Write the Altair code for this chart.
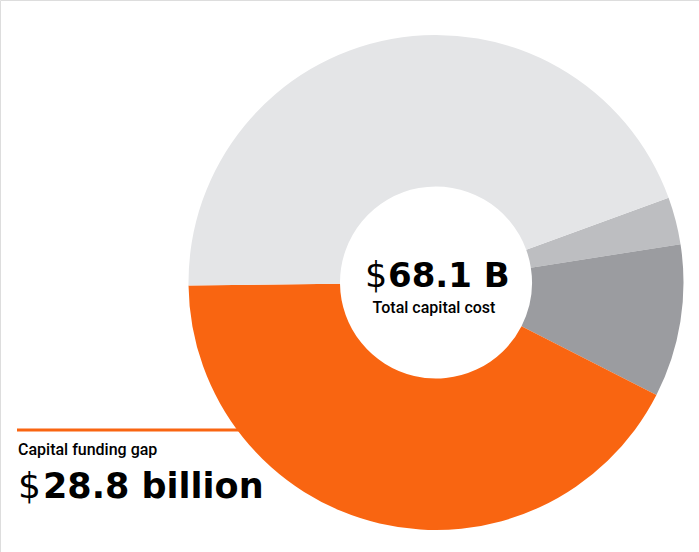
import altair as alt
import pandas as pd
import math

# Data
segments = ["Other A", "Other B", "Capital funding gap", "Funded"]
values = [2.1, 6.8, 28.8, 30.4]
colors = ["#BDBEC1", "#9B9CA0", "#F96511", "#E4E5E7"]
order = [1, 2, 3, 4]

center_value = ["68.1 B"]
center_label = ["Total capital cost"]
gap_label = ["Capital funding gap"]
gap_value = ["28.8 billion"]
currency = ["$"]

df = pd.DataFrame({"segment": segments, "value": values, "order": order})

start = math.radians(70)

arc = alt.Chart(df).mark_arc(radius=247.5, radius2=96).encode(
    theta=alt.Theta("value:Q", stack=True,
                    scale=alt.Scale(range=[start, start + 2 * math.pi])),
    order=alt.Order("order:Q"),
    color=alt.Color("segment:N", scale=alt.Scale(domain=segments, range=colors), legend=None),
    x=alt.value(436),
    y=alt.value(282.5),
)

line = alt.Chart(pd.DataFrame({"a": [0]})).mark_rule(color="#F96511", strokeWidth=3).encode(
    x=alt.value(17), x2=alt.value(250), y=alt.value(430)
)

def txt(values, x, y, size, weight, font, align="left"):
    return alt.Chart(pd.DataFrame({"t": values})).mark_text(
        fontSize=size, fontWeight=weight, font=font, align=align, baseline="alphabetic", color="#000000"
    ).encode(text="t:N", x=alt.value(x), y=alt.value(y))

c_dollar = txt(currency, 365, 287, 35, "normal", "DejaVu Sans")
c_value = txt(center_value, 388, 287, 34, "bold", "DejaVu Sans")
c_label = txt(center_label, 434, 313, 16, 500, "Roboto", align="center")
g_label = txt(gap_label, 18, 455, 16, 500, "Roboto")
g_dollar = txt(currency, 18, 498, 36, "normal", "DejaVu Sans")
g_value = txt(gap_value, 43, 498, 35, "bold", "DejaVu Sans")

chart = alt.layer(line, arc, c_dollar, c_value, c_label, g_label, g_dollar, g_value).properties(
    width=699, height=552, autosize=alt.AutoSizeParams(type="none"), padding=0
).configure_view(stroke=None).configure(background="#FFFFFF")

chart.save("out.html", embed_options={"renderer": "svg", "actions": False})
